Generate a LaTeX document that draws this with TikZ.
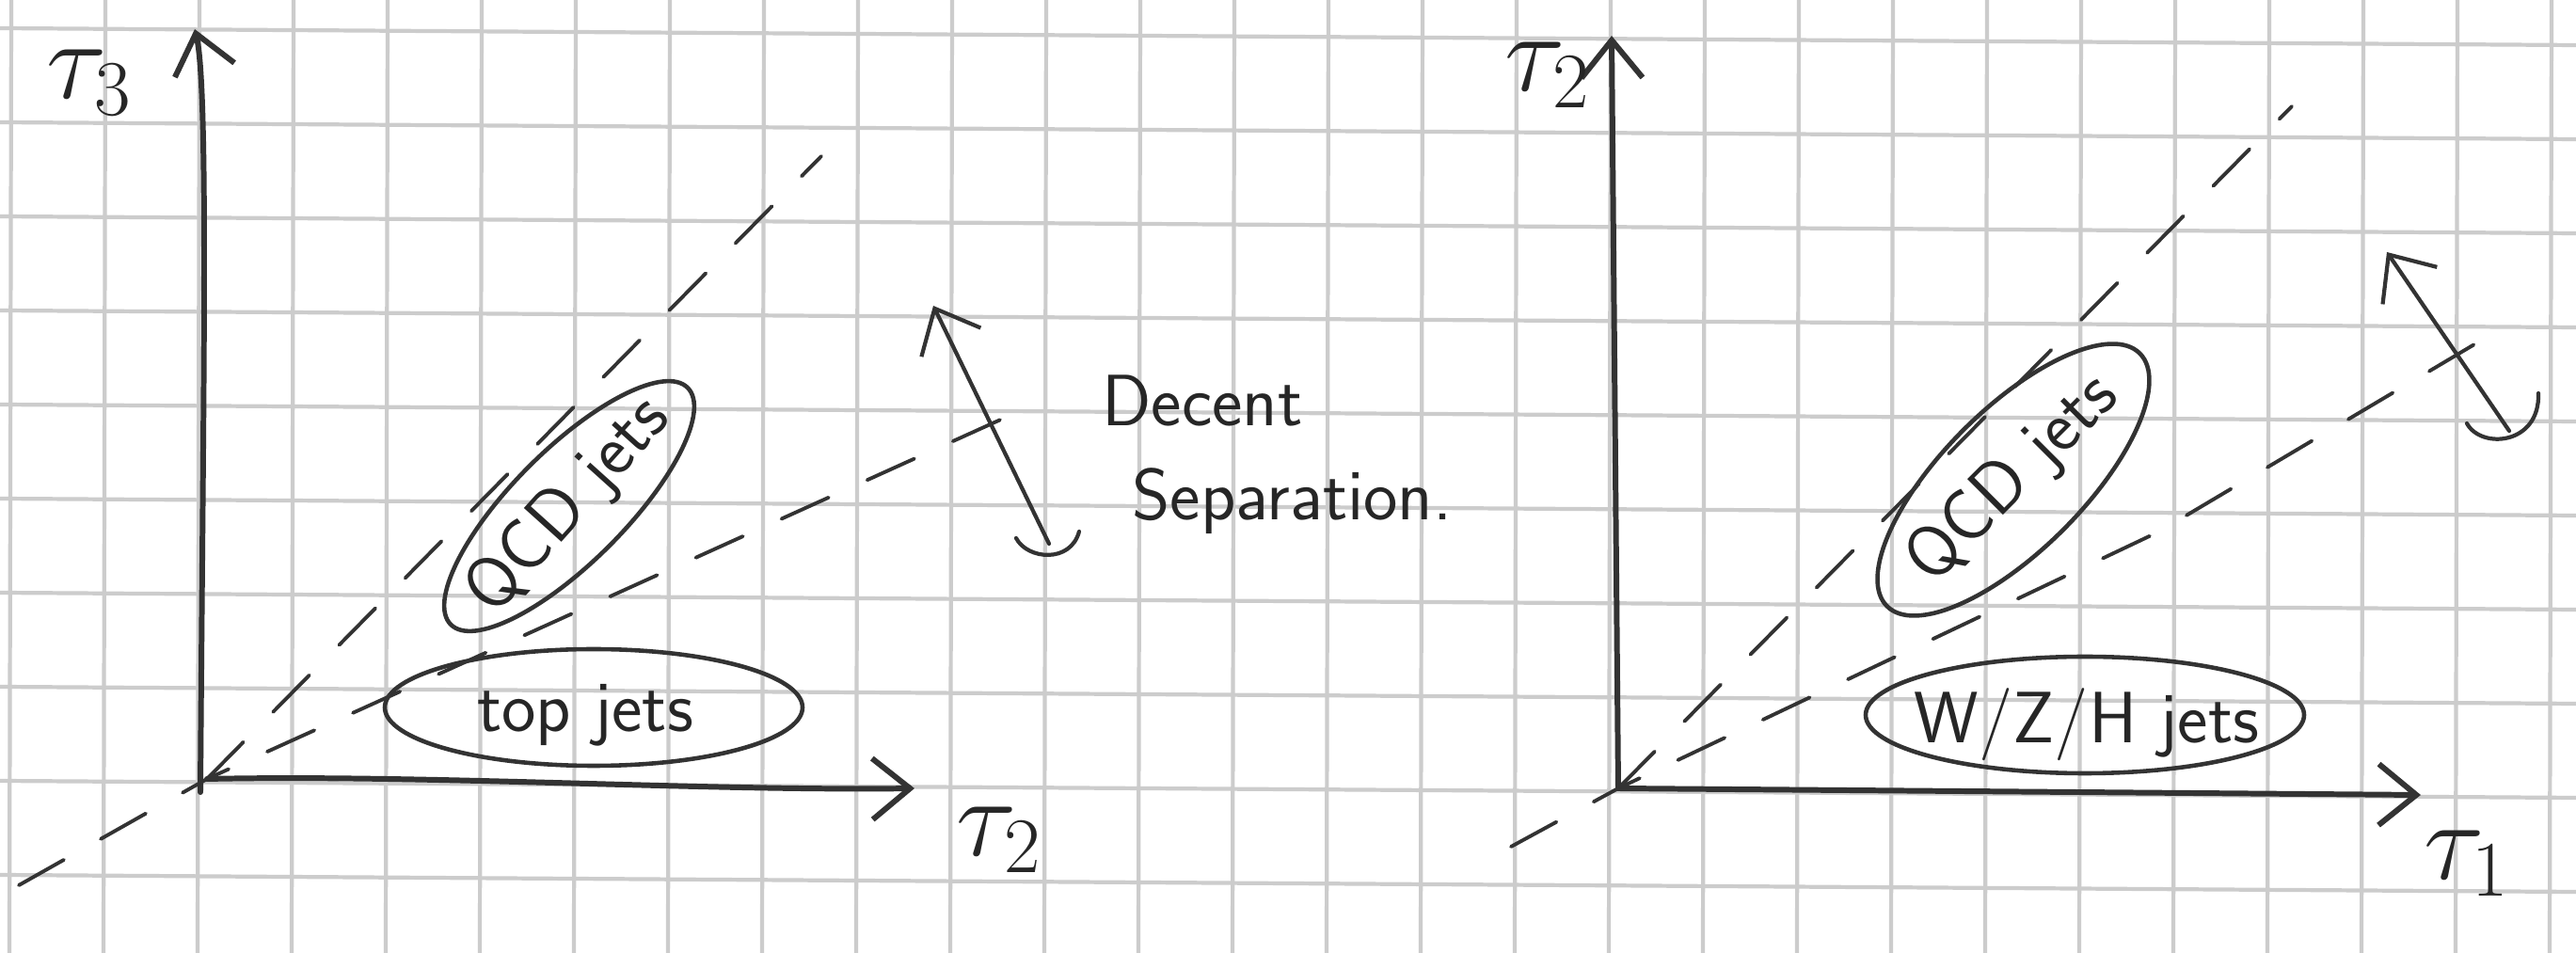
\RequirePackage{fix-cm}
\documentclass[tikz,border=0pt]{standalone}
\usepackage{fontspec}
\usepackage{tikz}
\usetikzlibrary{positioning,arrows.meta,shapes.geometric}
\usepackage{amsmath,amssymb}

\begin{document}
\begin{tikzpicture}[
    x=1cm, y=1cm,
    ink/.style={draw=black!80, line cap=round},
    paper/.style={draw=black!20, line width=1.2pt},
    axisline/.style={ink, line width=1.7pt, -{Straight Barb[length=4mm,width=6.5mm]}},
    guide/.style={ink, line width=1.1pt, dash pattern=on 5.5mm off 4.5mm},
    jetblob/.style={ellipse, ink, line width=1.3pt, inner sep=0pt},
    sep/.style={ink, line width=1.2pt, -{Straight Barb[length=4mm,width=7mm]}},
    lbl/.style={font=\sffamily\fontsize{22}{26}\selectfont, text=black!85},
    tau/.style={font=\fontsize{34}{38}\selectfont, text=black!85}
]
\useasboundingbox (0,0) rectangle (27.38,10.13);
\fill[white] (0,0) rectangle (27.38,10.13);
\foreach \gx in {0,...,27} \draw[paper] (\gx+0.1,0) -- (\gx+0.12,10.13);
\foreach \gy in {0,...,9} \draw[paper] (0,9.83-\gy) -- (27.38,9.65-\gy);

\coordinate (oL) at (2.20,1.85);
\coordinate (yLfoot) at (2.13,1.71);
\coordinate (yLtip) at (2.07,9.82);
\coordinate (xLtip) at (9.72,1.75);
\coordinate (diagLtop) at (8.73,8.47);
\coordinate (flatLfoot) at (0.20,0.72);
\coordinate (flatLtop) at (10.99,5.83);

\coordinate (oR) at (17.20,1.75);
\coordinate (yRtip) at (17.13,9.75);
\coordinate (xRtip) at (25.73,1.68);
\coordinate (diagRtop) at (24.36,9.00);
\coordinate (flatRfoot) at (16.06,1.13);
\coordinate (flatRbend) at (22.95,4.48);
\coordinate (flatRtop) at (26.52,6.60);

\draw[guide] (oL) -- (diagLtop);
\draw[guide] (flatLfoot) -- (oL) -- (flatLtop);
\draw[guide] (oR) -- (diagRtop);
\draw[guide] (flatRfoot) -- (oR) -- (flatRbend) -- (flatRtop);

\draw[axisline] (yLfoot) .. controls (2.16,6) and (2.22,9.2) .. (yLtip);
\draw[axisline] (oL) .. controls (4.5,1.9) and (7.5,1.72) .. (xLtip);
\draw[axisline] (oR) -- (yRtip);
\draw[axisline] (oR) -- (xRtip);

\node[tau] (t3) at (0.95,9.25) {$\tau_3$};
\node[tau] (t2L) at (10.62,1.20) {$\tau_2$};
\node[tau] (t2R) at (16.45,9.33) {$\tau_2$};
\node[tau] (t1) at (26.22,0.95) {$\tau_1$};

\node[jetblob, minimum width=4.44cm, minimum height=1.24cm] (topL) at (6.31,2.61) {};
\node[jetblob, rotate=45, minimum width=3.56cm, minimum height=1.2cm] (qcdL) at (6.05,4.75) {};
\node[lbl] (topLtxt) at (6.22,2.53) {top jets};
\node[lbl, rotate=48] (qcdLtxt) at (qcdL.center) {QCD jets};

\node[jetblob, minimum width=4.66cm, minimum height=1.24cm] (wzh) at (22.16,2.53) {};
\node[jetblob, rotate=45, minimum width=3.8cm, minimum height=1.5cm] (qcdR) at (21.40,5.03) {};
\node[lbl] (wzhtxt) at (22.18,2.43) {W/Z/H jets};
\node[lbl, rotate=45] (qcdRtxt) at (qcdR.center) {QCD jets};

\coordinate (sepLtop) at (9.92,6.88);
\coordinate (sepLbot) at (11.15,4.35);
\draw[sep] (sepLbot) -- (sepLtop);
\draw[ink, line width=1.2pt] (sepLbot) ++(-0.35,0.06) .. controls +(0.12,-0.23) and +(-0.09,-0.34) .. ++(0.67,0.07);
\node[lbl, anchor=base west] (decent) at (11.59,5.60) {Decent};
\node[lbl, anchor=base west] (separation) at (11.91,4.60) {Separation.};

\coordinate (sepRtop) at (25.37,7.45);
\coordinate (sepRbot) at (26.67,5.55);
\draw[sep] (sepRbot) -- (sepRtop);
\draw[ink, line width=1.2pt] (sepRbot) ++(-0.45,0.08) .. controls +(0.15,-0.28) and +(0.02,-0.55) .. ++(0.76,0.32);
\end{tikzpicture}
\end{document}
